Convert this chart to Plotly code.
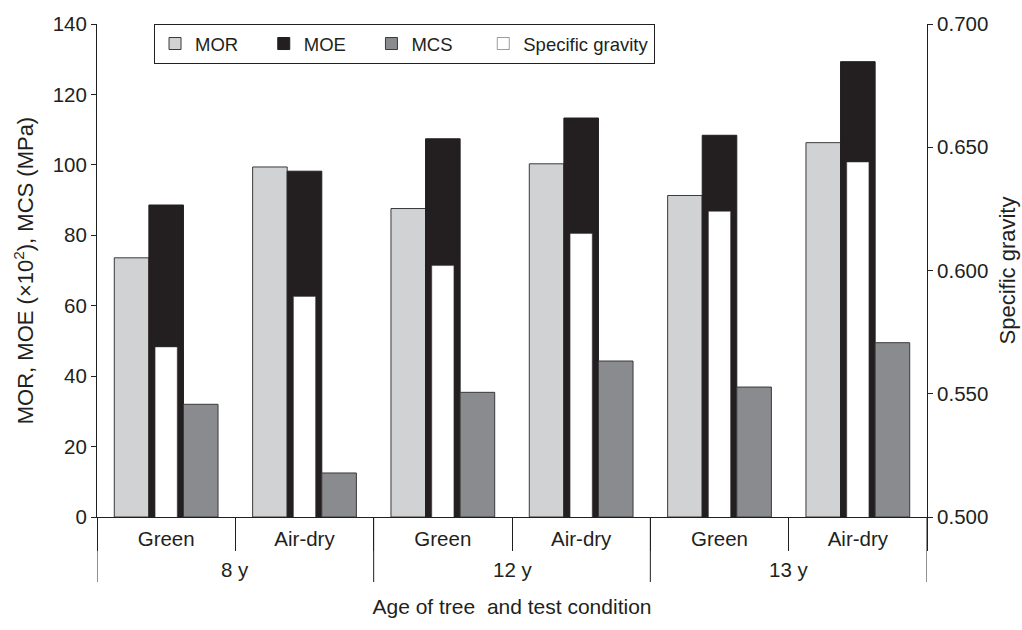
import plotly.graph_objects as go

ages = ["8 y", "8 y", "12 y", "12 y", "13 y", "13 y"]
conditions = ["Green", "Air-dry", "Green", "Air-dry", "Green", "Air-dry"]

mor = [73.6, 99.4, 87.6, 100.3, 91.3, 106.3]
moe = [88.6, 98.2, 107.4, 113.3, 108.4, 129.3]
mcs = [32.0, 12.5, 35.4, 44.3, 36.9, 49.5]
sg = [0.569, 0.5895, 0.602, 0.615, 0.624, 0.644]

series_names = ["MOR", "MOE", "MCS", "Specific gravity"]

FONT = "Liberation Sans, Arial, sans-serif"
INK = "#231f20"
EDGE = "#3a3a3a"

keys = [f"{a}|{c}" for a, c in zip(ages, conditions)]

NB = "\u00a0"
legend_names = [series_names[0] + NB * 4, series_names[1] + NB * 4,
                series_names[2] + NB * 5, series_names[3]]

fig = go.Figure()
fig.add_trace(go.Bar(x=keys, y=mor, name=legend_names[0], width=0.25, offset=-0.375,
                     marker=dict(color="#d1d2d4", line=dict(color=EDGE, width=1))))
fig.add_trace(go.Bar(x=keys, y=moe, name=legend_names[1], width=0.25, offset=-0.125,
                     marker=dict(color=INK, line=dict(color=INK, width=1))))
fig.add_trace(go.Bar(x=keys, y=mcs, name=legend_names[2], width=0.25, offset=0.125,
                     marker=dict(color="#8a8b8e", line=dict(color=EDGE, width=1))))
fig.add_trace(go.Bar(x=keys, y=sg, name=legend_names[3], width=0.16, offset=-0.08,
                     yaxis="y2",
                     marker=dict(color="#ffffff", line=dict(color=EDGE, width=0.5))))

# outer (age) group labels and dividers, derived from the ages list
PLOT_H = 493.0
groups = []
for i, a in enumerate(ages):
    if not groups or groups[-1][0] != a:
        groups.append([a, i, i])
    else:
        groups[-1][2] = i

annotations = []
shapes = []
div_bottom = -65 / PLOT_H
for a, i0, i1 in groups:
    annotations.append(dict(x=(i0 + i1) / 2, xref="x", y=-52 / PLOT_H, yref="paper",
                            text=a, showarrow=False, xanchor="center", yanchor="middle",
                            font=dict(size=20.5, family=FONT, color=INK)))
    shapes.append(dict(type="line", xref="x", yref="paper", x0=i0 - 0.5, x1=i0 - 0.5,
                       y0=0, y1=div_bottom, line=dict(color=INK, width=1)))
shapes.append(dict(type="line", xref="x", yref="paper", x0=len(ages) - 0.5,
                   x1=len(ages) - 0.5, y0=0, y1=div_bottom, line=dict(color=INK, width=1)))

fig.update_layout(
    width=1022, height=630,
    margin=dict(l=97, r=95, t=24, b=113),
    paper_bgcolor="white", plot_bgcolor="white",
    font=dict(family=FONT, color=INK, size=20),
    barmode="overlay",
    showlegend=True,
    legend=dict(orientation="h", x=0.0687, y=1.0, xanchor="left", yanchor="top",
                bordercolor=INK, borderwidth=1, bgcolor="white",
                font=dict(size=18.5, family=FONT, color=INK),
                itemwidth=30, traceorder="normal"),
    annotations=annotations,
    shapes=shapes,
    xaxis=dict(
        type="category", automargin=False, range=[-0.5, len(ages) - 0.5],
        tickvals=keys, ticktext=conditions, tickson="boundaries",
        showline=True, linecolor=INK, linewidth=1,
        ticks="outside", ticklen=33, tickcolor=INK, tickwidth=1,
        ticklabelstandoff=3,
        tickfont=dict(size=20.5, family=FONT, color=INK),
        title=dict(text="Age of tree\u00a0 and test condition",
                   font=dict(size=21, family=FONT, color=INK), standoff=50),
        showgrid=False,
    ),
    yaxis=dict(
        range=[0, 140], dtick=20, showgrid=False, zeroline=False, automargin=False,
        showline=True, linecolor=INK, linewidth=1,
        ticks="outside", ticklen=5, tickcolor=INK,
        tickfont=dict(size=20.5, family=FONT, color=INK),
        title=dict(text="MOR, MOE (\u00d710<sup>2</sup>), MCS (MPa)",
                   font=dict(size=22, family=FONT, color=INK), standoff=12),
    ),
    yaxis2=dict(
        range=[0.5, 0.7], dtick=0.05, tickformat=".3f", overlaying="y", side="right",
        showgrid=False, zeroline=False, automargin=False,
        showline=True, linecolor=INK, linewidth=1,
        ticks="outside", ticklen=5, tickcolor=INK,
        tickfont=dict(size=20.5, family=FONT, color=INK),
        title=dict(text="Specific gravity",
                   font=dict(size=22, family=FONT, color=INK), standoff=12),
    ),
)

fig.write_html("out.html", config={"displayModeBar": False},
               post_script="document.body.style.margin='0';")
